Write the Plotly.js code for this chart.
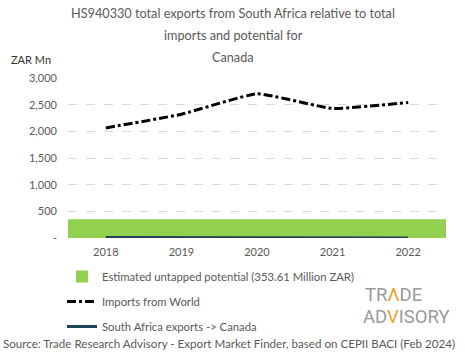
<!DOCTYPE html>
<html>
<head>
<meta charset="utf-8">
<script src="https://cdn.plot.ly/plotly-3.0.1.min.js"></script>
<style>html,body{margin:0;padding:0;background:#fff;}#chart{width:465px;height:359px;}</style>
</head>
<body>
<div id="chart"></div>
<script>
// Data
const years = ["2018", "2019", "2020", "2021", "2022"];
const importsWorld = [2064, 2320, 2703, 2429, 2541];
const saExports = [8, 7, 8, 6, 2];
const potentialLabel = ["Potential"];
const potentialValue = [353.61];
const yTickVals = [0, 500, 1000, 1500, 2000, 2500, 3000];
const yTickText = ["-", "500", "1,000", "1,500", "2,000", "2,500", "3,000"];
const titleLines = [
  "HS940330 total exports from South Africa relative to total",
  "imports and potential for",
  "Canada"
];
const sourceText = "Source: Trade Research Advisory - Export Market Finder, based on CEPII BACI (Feb 2024)";

const FONT = "Lato, 'Open Sans', sans-serif";
const GREY = "#595959";
const W = 465, H = 359, ML = 68, MR = 19, MT = 78, MB = 121;
const PW = W - ML - MR, PH = H - MT - MB;
const px = X => (X - ML) / PW;
const py = Y => (H - MB - Y) / PH;

const traces = [
  {
    type: "bar", x: potentialLabel, y: potentialValue, width: [1],
    xaxis: "x", yaxis: "y",
    name: "Estimated untapped potential (353.61 Million ZAR)",
    marker: {color: "#92d050"}, legendgroup: "a", hoverinfo: "y"
  },
  {
    type: "scatter", mode: "lines", x: years, y: importsWorld,
    xaxis: "x2", yaxis: "y",
    name: "Imports from World",
    line: {color: "#000000", width: 3, dash: "dashdot", shape: "spline", smoothing: 0.4},
    legendgroup: "b"
  },
  {
    type: "scatter", mode: "lines", x: years, y: saExports,
    xaxis: "x2", yaxis: "y",
    name: "South Africa exports -> Canada",
    line: {color: "#1b4456", width: 3},
    legendgroup: "c"
  }
];

function ann(text, X, Y, xanchor, font) {
  return {text: text, xref: "paper", yref: "paper", x: px(X), y: py(Y),
    xanchor: xanchor, yanchor: "middle", showarrow: false, font: font};
}
const annotations = titleLines.map((t, i) =>
  ann(t, 233, 13 + i * 22, "center", {family: FONT, size: 12.7, color: GREY}));
annotations.push(ann("ZAR Mn", 9, 60, "left", {family: FONT, size: 11, color: "#333333"}));
annotations.push(ann(sourceText, 1, 343, "left", {family: FONT, size: 11.6, color: GREY}));
annotations.push(ann("TR<span style='color:#f0a030'>Λ</span>DE", 393, 295, "center",
  {family: "Roboto, sans-serif", size: 18.5, color: "#9a9a9a"}));
annotations.push(ann("AD<span style='color:#f0a030'>V</span>ISORY", 406, 317, "center",
  {family: "Roboto, sans-serif", size: 18.5, color: "#9a9a9a"}));

const layout = {
  width: W, height: H,
  margin: {l: ML, r: MR, t: MT, b: MB, autoexpand: false},
  paper_bgcolor: "#ffffff", plot_bgcolor: "#ffffff",
  font: {family: FONT, size: 11, color: GREY},
  showlegend: true,
  legend: {
    orientation: "v", xref: "container", yref: "container",
    x: 62 / W, y: 1 - 262 / H, xanchor: "left", yanchor: "top",
    traceorder: "grouped", tracegroupgap: 6,
    font: {family: FONT, size: 11.3, color: GREY},
    bgcolor: "rgba(0,0,0,0)", itemwidth: 30
  },
  xaxis: {
    type: "category", range: [-0.5, 0.5], visible: false, fixedrange: true
  },
  xaxis2: {
    type: "category", overlaying: "x", side: "bottom", range: [-0.5, 4.5],
    showgrid: false, zeroline: false, showline: false, ticks: "", tickangle: 0,
    tickfont: {family: FONT, size: 11, color: GREY}, ticklabelstandoff: 6
  },
  yaxis: {
    range: [0, 3000], tickvals: yTickVals, ticktext: yTickText,
    showgrid: true, gridcolor: "#d9d9d9", griddash: "dash", gridwidth: 1,
    zeroline: false, showline: false, ticks: "",
    tickfont: {family: FONT, size: 11, color: GREY}, ticklabelstandoff: 10
  },
  annotations: annotations
};

Plotly.newPlot("chart", traces, layout, {displayModeBar: false, staticPlot: true});
</script>
</body>
</html>
